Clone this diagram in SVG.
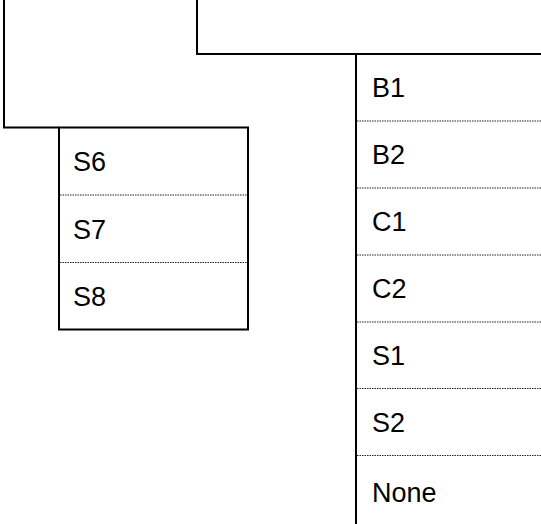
<svg xmlns="http://www.w3.org/2000/svg" width="541" height="524" viewBox="0 0 541 524">
<style>
.edge{fill:none;stroke:#000;stroke-width:2}
.sep{fill:none;stroke:#222;stroke-width:1;stroke-dasharray:1.5,1}
.lbl{font-family:"Liberation Sans",Arial,sans-serif;font-size:27px;fill:#000}
</style>
<rect width="541" height="524" fill="#fff"/>
<g id="box-left-top">
<path class="edge" d="M4,0 V127.5 H59"/>
</g>
<g id="box-top">
<path class="edge" d="M197,0 V54 H541" stroke-width="2.5"/>
</g>
<g id="box-s">
<rect class="edge" x="59" y="127.5" width="189" height="202"/>
<line class="sep" x1="60" y1="195" x2="247" y2="195"/>
<line class="sep" x1="60" y1="262.5" x2="247" y2="262.5"/>
<text class="lbl" x="73" y="171">S6</text>
<text class="lbl" x="73" y="238.5">S7</text>
<text class="lbl" x="73" y="306">S8</text>
</g>
<g id="box-right">
<path class="edge" d="M356,54 V524"/>
<line class="sep" x1="357" y1="121" x2="541" y2="121"/>
<line class="sep" x1="357" y1="188" x2="541" y2="188"/>
<line class="sep" x1="357" y1="255" x2="541" y2="255"/>
<line class="sep" x1="357" y1="322" x2="541" y2="322"/>
<line class="sep" x1="357" y1="388.5" x2="541" y2="388.5"/>
<line class="sep" x1="357" y1="455.5" x2="541" y2="455.5"/>
<text class="lbl" x="372" y="97">B1</text>
<text class="lbl" x="372" y="164">B2</text>
<text class="lbl" x="372" y="231">C1</text>
<text class="lbl" x="372" y="298">C2</text>
<text class="lbl" x="372" y="365">S1</text>
<text class="lbl" x="372" y="432">S2</text>
<text class="lbl" x="372" y="502">None</text>
</g>
<g id="connectors"></g>
</svg>
